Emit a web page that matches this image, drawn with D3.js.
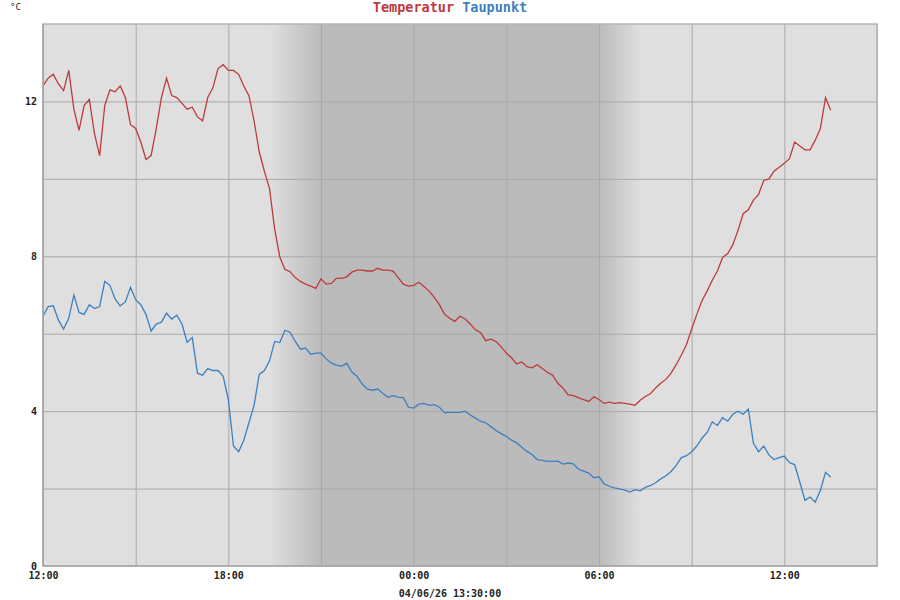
<!DOCTYPE html>
<html>
<head>
<meta charset="utf-8">
<script src="https://cdn.jsdelivr.net/npm/d3@7"></script>
<style>
  body { margin: 0; background: #fff; }
  text { font-family: "DejaVu Sans Mono", monospace; }
</style>
</head>
<body>
<script>
// logger readings, one every 10 minutes starting 12:00
const startTime = new Date(2026, 3, 5, 12, 0);
const stepMinutes = 10;
const dateLabel = "04/06/26 13:30:00";
const seriesNames = ["Temperatur", "Taupunkt"];

const temperatur = [
  12.4, 12.6, 12.7, 12.45, 12.28, 12.8, 11.8, 11.25, 11.9, 12.05,
  11.17, 10.6, 11.9, 12.3, 12.25, 12.4, 12.1, 11.4, 11.3, 10.95,
  10.5, 10.6, 11.3, 12.1, 12.6, 12.15, 12.1, 11.95, 11.8, 11.85,
  11.6, 11.5, 12.1, 12.35, 12.85, 12.95, 12.8, 12.8, 12.7, 12.4,
  12.15, 11.5, 10.7, 10.2, 9.75, 8.7, 7.98, 7.66, 7.6, 7.45,
  7.35, 7.28, 7.23, 7.17, 7.42, 7.28, 7.3, 7.43, 7.43, 7.47,
  7.59, 7.64, 7.64, 7.62, 7.62, 7.69, 7.64, 7.64, 7.62, 7.45,
  7.28, 7.23, 7.25, 7.33, 7.22, 7.1, 6.94, 6.75, 6.5, 6.4,
  6.32, 6.45, 6.38, 6.25, 6.1, 6.03, 5.82, 5.86, 5.8, 5.66,
  5.5, 5.38, 5.22, 5.27, 5.15, 5.12, 5.2, 5.1, 5.0, 4.93,
  4.72, 4.6, 4.42, 4.4, 4.35, 4.3, 4.25, 4.37, 4.3, 4.2,
  4.23, 4.2, 4.22, 4.2, 4.18, 4.15, 4.28, 4.38, 4.45, 4.6,
  4.72, 4.82, 4.98, 5.2, 5.45, 5.72, 6.12, 6.5, 6.85, 7.1,
  7.38, 7.62, 7.97, 8.07, 8.3, 8.67, 9.1, 9.2, 9.45, 9.6,
  9.96, 10.0, 10.2, 10.3, 10.4, 10.52, 10.95, 10.85, 10.75, 10.75,
  11.0, 11.3, 12.1, 11.77
];

const taupunkt = [
  6.45, 6.7, 6.72, 6.35, 6.12, 6.4, 7.0, 6.55, 6.5, 6.75,
  6.65, 6.7, 7.35, 7.25, 6.9, 6.72, 6.82, 7.2, 6.88, 6.75,
  6.5, 6.07, 6.25, 6.3, 6.53, 6.38, 6.48, 6.25, 5.78, 5.9,
  4.98, 4.93, 5.1, 5.05, 5.05, 4.9, 4.3, 3.1, 2.95, 3.25,
  3.7, 4.15, 4.95, 5.05, 5.3, 5.8, 5.77, 6.09, 6.04, 5.8,
  5.6, 5.63, 5.47, 5.5, 5.5, 5.35, 5.24, 5.19, 5.16, 5.24,
  5.01, 4.9, 4.7, 4.57, 4.54, 4.57, 4.46, 4.36, 4.4, 4.36,
  4.35, 4.1, 4.08, 4.18, 4.2, 4.15, 4.17, 4.1, 3.96, 3.97,
  3.97, 3.97, 4.0, 3.9, 3.82, 3.74, 3.7, 3.6, 3.5, 3.42,
  3.35, 3.25, 3.18, 3.07, 2.96, 2.88, 2.75, 2.73, 2.7, 2.7,
  2.71, 2.63, 2.66, 2.64, 2.5, 2.45, 2.4, 2.28, 2.3, 2.12,
  2.06, 2.02, 1.99, 1.96, 1.91, 1.97, 1.94, 2.03, 2.08, 2.15,
  2.25, 2.33, 2.44, 2.6, 2.8, 2.85, 2.95, 3.1, 3.3, 3.45,
  3.72, 3.63, 3.83, 3.74, 3.92, 4.0, 3.92, 4.05, 3.17, 2.95,
  3.1, 2.87, 2.75, 2.8, 2.84, 2.67, 2.62, 2.17, 1.7, 1.78,
  1.65, 1.95, 2.42, 2.3
];

// dusk / night / dawn (hours after start)
const duskStart = 7.35, nightStart = 9, nightEnd = 18, dawnEnd = 19.35;

const width = 900, height = 600;
const margin = {top: 24, right: 23, bottom: 34, left: 43};
const w = width - margin.left - margin.right;
const h = height - margin.top - margin.bottom;

const hrs = n => new Date(startTime.getTime() + n * 3600e3);

const x = d3.scaleTime().domain([startTime, hrs(27)]).range([0, w]);
const y = d3.scaleLinear().domain([0, 14]).range([h, 0]);

const svg = d3.select("body").append("svg")
  .attr("width", width)
  .attr("height", height);

const defs = svg.append("defs");
const grad = defs.append("linearGradient")
  .attr("id", "night")
  .attr("gradientUnits", "userSpaceOnUse")
  .attr("x1", x(hrs(duskStart))).attr("x2", x(hrs(dawnEnd)))
  .attr("y1", 0).attr("y2", 0);
const span = dawnEnd - duskStart;
grad.append("stop").attr("offset", 0).attr("stop-color", "#dfdfdf");
grad.append("stop").attr("offset", (nightStart - duskStart) / span).attr("stop-color", "#bbbbbb");
grad.append("stop").attr("offset", (nightEnd - duskStart) / span).attr("stop-color", "#bbbbbb");
grad.append("stop").attr("offset", 1).attr("stop-color", "#dfdfdf");

const g = svg.append("g").attr("transform", `translate(${margin.left},${margin.top})`);

g.append("rect").attr("width", w).attr("height", h).attr("fill", "#dfdfdf");
g.append("rect")
  .attr("x", x(hrs(duskStart)))
  .attr("width", x(hrs(dawnEnd)) - x(hrs(duskStart)))
  .attr("height", h)
  .attr("fill", "url(#night)");

// grid
g.append("g")
  .attr("class", "grid")
  .attr("transform", `translate(0,${h})`)
  .call(d3.axisBottom(x).ticks(d3.timeHour.every(3)).tickSize(-h).tickFormat(""))
  .call(s => s.select(".domain").remove());
g.append("g")
  .attr("class", "grid")
  .call(d3.axisLeft(y).tickValues(d3.range(2, 14, 2)).tickSize(-w).tickFormat(""))
  .call(s => s.select(".domain").remove());
g.selectAll(".grid line").attr("stroke", "#a9a9a9").attr("stroke-width", 1);

// axes labels
const xAxis = g.append("g")
  .attr("transform", `translate(0,${h})`)
  .call(d3.axisBottom(x).ticks(d3.timeHour.every(6)).tickSize(0).tickPadding(6)
    .tickFormat(d3.timeFormat("%H:%M")));
xAxis.select(".domain").remove();
xAxis.selectAll("text").attr("font-size", 10).attr("font-weight", "bold")
  .attr("font-family", "'DejaVu Sans Mono', monospace").attr("fill", "#222");

const yAxis = g.append("g")
  .call(d3.axisLeft(y).tickValues([0, 4, 8, 12]).tickSize(0).tickPadding(6));
yAxis.select(".domain").remove();
yAxis.selectAll("text").attr("font-size", 10).attr("font-weight", "bold")
  .attr("font-family", "'DejaVu Sans Mono', monospace").attr("fill", "#222");

// lines
const line = d3.line()
  .x((d, i) => x(new Date(startTime.getTime() + i * stepMinutes * 60e3)))
  .y(d => y(d));

g.append("path").datum(taupunkt)
  .attr("d", line).attr("fill", "none")
  .attr("stroke", "#3d80c0").attr("stroke-width", 1.3);
g.append("path").datum(temperatur)
  .attr("d", line).attr("fill", "none")
  .attr("stroke", "#bf3a3a").attr("stroke-width", 1.3);

// frame
g.append("rect").attr("width", w).attr("height", h)
  .attr("fill", "none").attr("stroke", "#b5b5b5").attr("stroke-width", 1.5);
g.append("line").attr("x1", 0).attr("x2", w).attr("y1", h).attr("y2", h)
  .attr("stroke", "#999");
g.append("line").attr("x1", 0).attr("x2", 0).attr("y1", 0).attr("y2", h)
  .attr("stroke", "#999");

// title
const title = svg.append("text")
  .attr("x", width / 2).attr("y", 12)
  .attr("text-anchor", "middle")
  .attr("font-family", "'Liberation Mono', monospace")
  .attr("font-weight", "bold")
  .attr("font-size", 13.5);
title.append("tspan").attr("fill", "#c0393b").text(seriesNames[0]);
title.append("tspan").attr("fill", "#3d80c0").text(" " + seriesNames[1]);

svg.append("text")
  .attr("x", 10).attr("y", 10)
  .attr("font-size", 9)
  .attr("fill", "#222")
  .text("°C");

svg.append("text")
  .attr("x", width / 2).attr("y", 597)
  .attr("text-anchor", "middle")
  .attr("font-size", 10)
  .attr("font-weight", "bold")
  .attr("fill", "#222")
  .text(dateLabel);
</script>
</body>
</html>
